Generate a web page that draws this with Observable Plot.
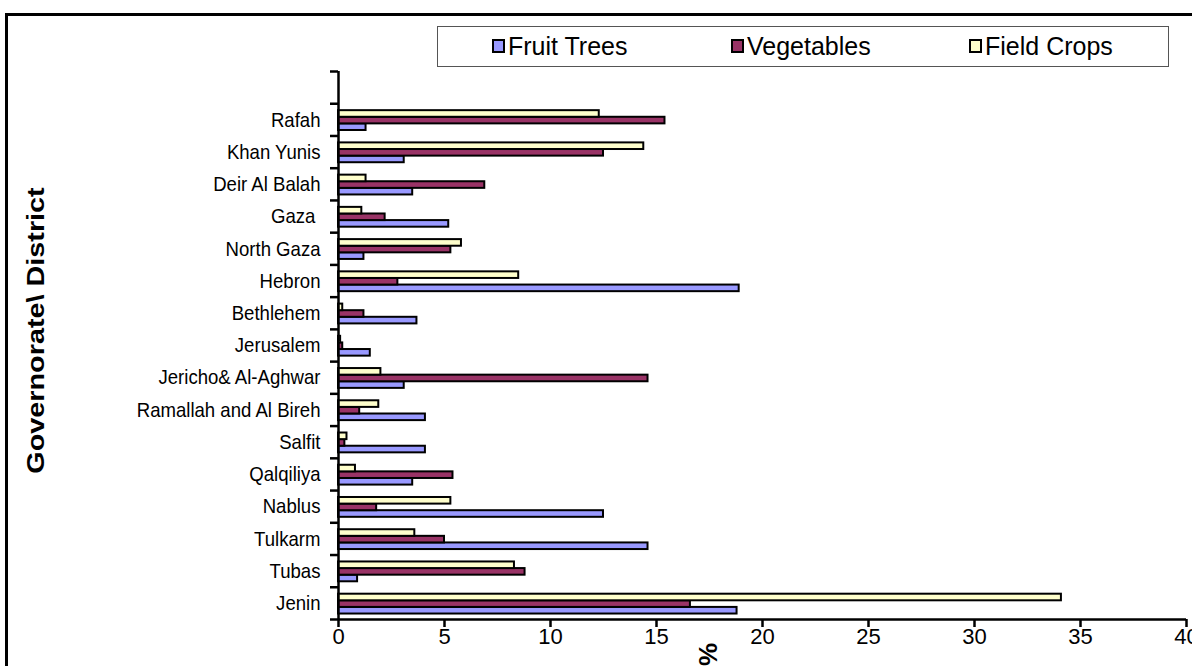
<!DOCTYPE html>
<html>
<head>
<meta charset="utf-8">
<script src="https://cdn.jsdelivr.net/npm/d3@7"></script>
<script src="https://cdn.jsdelivr.net/npm/@observablehq/plot@0.6"></script>
<style>
  html, body { margin: 0; padding: 0; background: #fff; }
  #wrap { position: relative; width: 1192px; height: 666px; overflow: hidden; font-family: "Liberation Sans", Arial, sans-serif; }
  #frame { position: absolute; left: 5px; top: 13px; width: 1400px; height: 900px; border-top: 3px solid #000; border-left: 3px solid #000; }
  #chart { position: absolute; left: 0; top: 0; }
  #legend { position: absolute; left: 437px; top: 26px; width: 730px; height: 39px; border: 1px solid #555; background: #fff; }
  .sw { position: absolute; top: 12px; width: 13px; height: 14px; border: 2px solid #000; box-sizing: border-box; }
  .lt { position: absolute; top: 0; height: 39px; line-height: 39px; font-size: 25px; color: #000; white-space: nowrap; }
</style>
</head>
<body>
<div id="wrap">
  <div id="frame"></div>
  <div id="chart"></div>
  <div id="legend"></div>
</div>
<script>
// ---- data (districts listed top to bottom as drawn) ----
const districts = ["Rafah", "Khan Yunis", "Deir Al Balah", "Gaza\u00a0", "North Gaza", "Hebron", "Bethlehem", "Jerusalem", "Jericho& Al-Aghwar", "Ramallah and Al Bireh", "Salfit", "Qalqiliya", "Nablus", "Tulkarm", "Tubas", "Jenin"];
const seriesNames = ["Fruit Trees", "Vegetables", "Field Crops"];
const fruitTrees = [1.3, 3.1, 3.5, 5.2, 1.2, 18.9, 3.7, 1.5, 3.1, 4.1, 4.1, 3.5, 12.5, 14.6, 0.9, 18.8];
const vegetables = [15.4, 12.5, 6.9, 2.2, 5.3, 2.8, 1.2, 0.2, 14.6, 1.0, 0.3, 5.4, 1.8, 5.0, 8.8, 16.6];
const fieldCrops = [12.3, 14.4, 1.3, 1.1, 5.8, 8.5, 0.2, 0.1, 2.0, 1.9, 0.4, 0.8, 5.3, 3.6, 8.3, 34.1];
const xTicks = [0, 5, 10, 15, 20, 25, 30, 35, 40];
const seriesColors = ["#9999FF", "#993366", "#FFFFCC"];
const yTitle = "Governorate\\ District";
const xTitle = "%";

// ---- build table ----
const seriesValues = [fruitTrees, vegetables, fieldCrops];
const nBands = districts.length + 1; // one empty band on top
const n = districts.length;
const barH = 0.205, barStart = 0.17;
const rows = [];
districts.forEach((name, i) => {
  const k = n - 1 - i; // band index from bottom
  seriesNames.forEach((s, j) => {
    const y1 = k + barStart + j * barH;
    rows.push({district: name, series: s, value: seriesValues[j][i], y1, y2: y1 + barH});
  });
});
const labelFor = (d) => districts[n - 1 - Math.round(d - 0.5)];

const W = 1192, H = 666;
const chart = Plot.plot({
  width: W,
  height: H,
  marginLeft: 338,
  marginRight: 6,
  marginTop: 71,
  marginBottom: 47,
  style: {fontFamily: "'Liberation Sans', Arial, sans-serif", color: "#000", background: "transparent", overflow: "visible"},
  x: {domain: [0, 40]},
  y: {domain: [0, nBands]},
  color: {domain: seriesNames, range: seriesColors},
  marks: [
    Plot.rect(rows, {x1: () => 0, x2: "value", y1: "y1", y2: "y2", fill: "series", stroke: "#000", strokeWidth: 2}),
    Plot.ruleX([0], {stroke: "#000", strokeWidth: 2.5}),
    Plot.ruleY([0], {stroke: "#000", strokeWidth: 2.5}),
    Plot.axisY({ticks: d3.range(nBands + 1), tickSize: 8, tickFormat: () => "", label: null, strokeWidth: 2.5, stroke: "#000"}),
    Plot.axisY({ticks: d3.range(n).map(k => k + 0.5), tickSize: 0, tickPadding: 18, tickFormat: labelFor, label: null, fontSize: 21, fill: "#000"}),
    Plot.axisX({ticks: xTicks, tickSize: 8, tickPadding: 1, tickFormat: d => String(d), label: null, fontSize: 22, strokeWidth: 2.5, stroke: "#000", fill: "#000"}),
    Plot.text([yTitle], {frameAnchor: "left", dx: -302, dy: -15, rotate: -90, fontSize: 24, fontWeight: "bold", fill: "#000", textAnchor: "middle", lineAnchor: "middle"}),
    Plot.text([xTitle], {frameAnchor: "bottom", dx: -54, dy: 35, rotate: -90, fontSize: 26, fontWeight: "bold", fill: "#000", textAnchor: "middle", lineAnchor: "middle"})
  ]
});
document.getElementById("chart").appendChild(chart);

// narrower rendering of the category labels, longer rendering of the axis title (as in the reference)
chart.querySelectorAll('g[aria-label="y-axis tick label"] text').forEach(t => {
  const tr = t.getAttribute("transform") || "";
  t.setAttribute("transform", tr + " scale(0.885,1)");
});
chart.querySelectorAll("text").forEach(t => {
  if (t.textContent === yTitle) {
    const tr = t.getAttribute("transform") || "";
    t.setAttribute("transform", tr + " scale(1.2,1)");
  }
});

// ---- legend ----
const legend = document.getElementById("legend");
const swLeft = [54, 293, 531];
seriesNames.forEach((s, j) => {
  const sw = document.createElement("div");
  sw.className = "sw";
  sw.style.left = swLeft[j] + "px";
  sw.style.background = seriesColors[j];
  legend.appendChild(sw);
  const t = document.createElement("div");
  t.className = "lt";
  t.style.left = (swLeft[j] + 16) + "px";
  t.textContent = s;
  legend.appendChild(t);
});
</script>
</body>
</html>
